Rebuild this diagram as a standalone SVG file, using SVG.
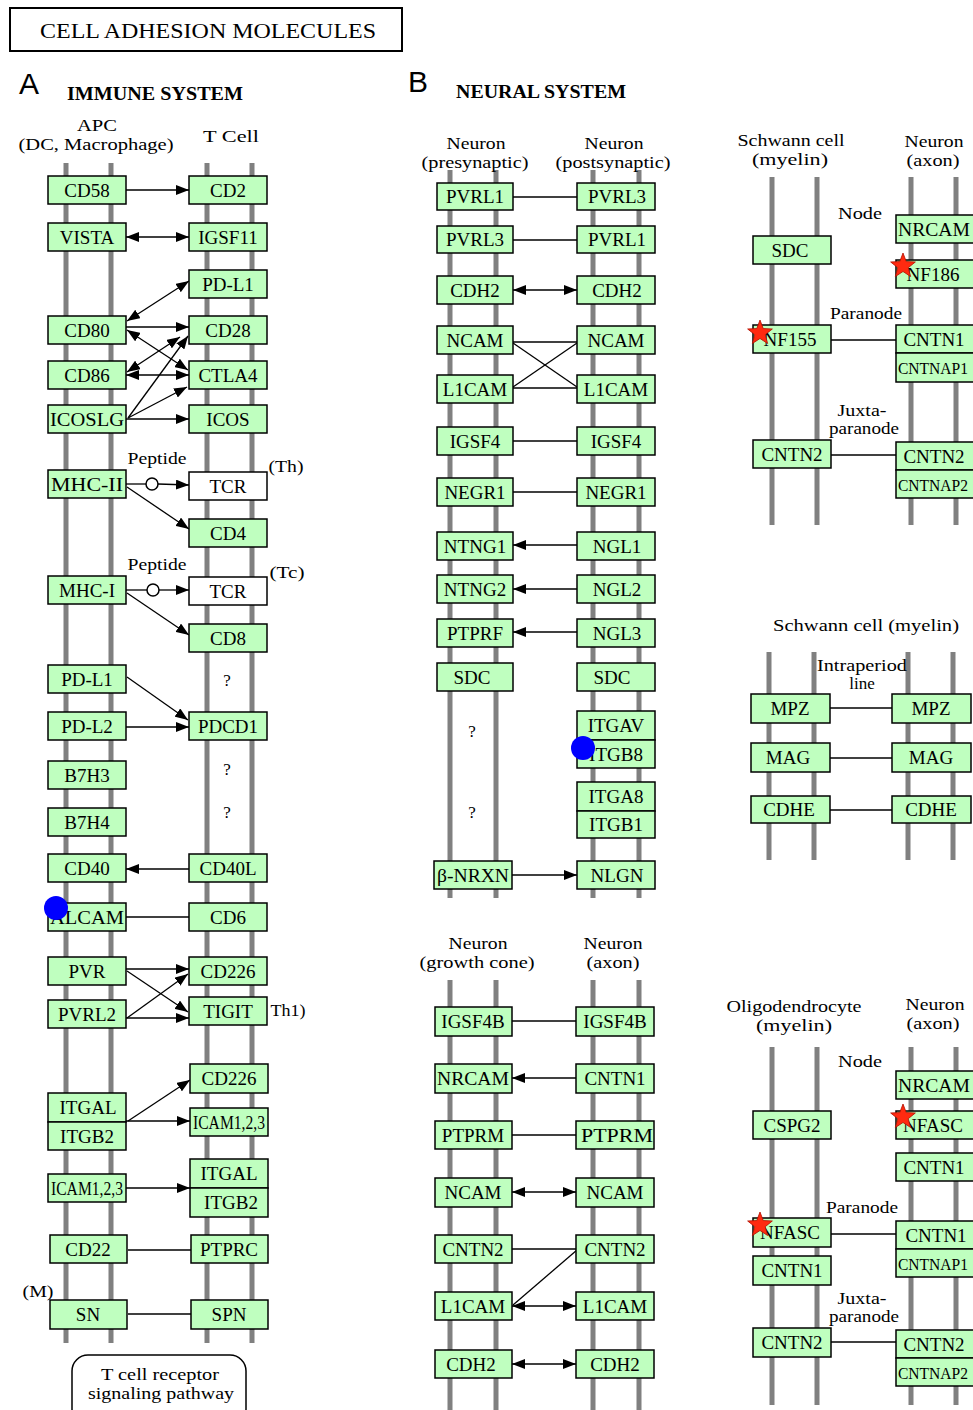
<svg xmlns="http://www.w3.org/2000/svg" width="973" height="1410" viewBox="0 0 973 1410">
<style>
.box{fill:#bfffbf;stroke:#000;stroke-width:1.5}
.wbox{fill:#fff;stroke:#000;stroke-width:1.5}
.nt{font-family:"Liberation Serif",serif;font-size:19px;text-anchor:middle;fill:#000}
.sq{font-size:17px}
.lb{font-family:"Liberation Serif",serif;font-size:17px;text-anchor:middle;fill:#000}
.hd{font-family:"Liberation Serif",serif;font-size:19px;font-weight:bold;fill:#000}
.big{font-family:"Liberation Sans",sans-serif;font-size:30px;fill:#000}
.bar{stroke:#808080;stroke-width:5}
.c{stroke:#000;stroke-width:1.3;fill:none}
.a{marker-end:url(#ah)}
.d{marker-start:url(#ah);marker-end:url(#ah)}
.star{fill:#ff2a10;stroke:#b01000;stroke-width:0.8}
.dot{fill:#0000ff}
</style>
<defs>
<marker id="ah" viewBox="0 0 13 10" refX="13" refY="5" markerWidth="13" markerHeight="10" orient="auto-start-reverse" markerUnits="userSpaceOnUse"><path d="M0,0 L13,5 L0,10 z" fill="#000"/></marker>
<path id="star" d="M0,-13 L3.23,-4.45 L12.36,-4.02 L5.23,1.7 L7.64,10.52 L0,5.5 L-7.64,10.52 L-5.23,1.7 L-12.36,-4.02 L-3.23,-4.45 Z"/>
</defs>
<rect width="973" height="1410" fill="#fff"/>

<!-- Title and headings -->
<g id="title">
<rect x="10" y="8" width="392" height="43" fill="#fff" stroke="#000" stroke-width="2"/>
<text x="40" y="38" font-family="Liberation Serif, serif" font-size="21" textLength="336" lengthAdjust="spacingAndGlyphs">CELL ADHESION  MOLECULES</text>
</g>
<text class="big" x="19" y="94">A</text>
<text class="hd" x="67" y="100" textLength="176" lengthAdjust="spacingAndGlyphs">IMMUNE SYSTEM</text>
<text class="big" x="408" y="92">B</text>
<text class="hd" x="456" y="98" textLength="170" lengthAdjust="spacingAndGlyphs">NEURAL SYSTEM</text>

<!-- Membrane bars -->
<g id="membranes">
<line class="bar" x1="66" y1="163" x2="66" y2="1343"/>
<line class="bar" x1="111" y1="163" x2="111" y2="1343"/>
<line class="bar" x1="207" y1="163" x2="207" y2="1343"/>
<line class="bar" x1="252" y1="163" x2="252" y2="1343"/>
<line class="bar" x1="450" y1="170" x2="450" y2="898"/>
<line class="bar" x1="496" y1="170" x2="496" y2="898"/>
<line class="bar" x1="593" y1="170" x2="593" y2="898"/>
<line class="bar" x1="639" y1="170" x2="639" y2="898"/>
<line class="bar" x1="450" y1="980" x2="450" y2="1410"/>
<line class="bar" x1="496" y1="980" x2="496" y2="1410"/>
<line class="bar" x1="593" y1="980" x2="593" y2="1410"/>
<line class="bar" x1="639" y1="980" x2="639" y2="1410"/>
<line class="bar" x1="772" y1="177" x2="772" y2="525"/>
<line class="bar" x1="817" y1="177" x2="817" y2="525"/>
<line class="bar" x1="911" y1="177" x2="911" y2="525"/>
<line class="bar" x1="956" y1="177" x2="956" y2="525"/>
<line class="bar" x1="769" y1="652" x2="769" y2="860"/>
<line class="bar" x1="814" y1="652" x2="814" y2="860"/>
<line class="bar" x1="908" y1="652" x2="908" y2="860"/>
<line class="bar" x1="953" y1="652" x2="953" y2="860"/>
<line class="bar" x1="772" y1="1047" x2="772" y2="1405"/>
<line class="bar" x1="817" y1="1047" x2="817" y2="1405"/>
<line class="bar" x1="911" y1="1047" x2="911" y2="1405"/>
<line class="bar" x1="956" y1="1047" x2="956" y2="1405"/>
</g>

<!-- Labels -->
<g id="labels">
<text class="lb" x="97" y="131" textLength="40" lengthAdjust="spacingAndGlyphs">APC</text>
<text class="lb" x="96" y="150" textLength="155" lengthAdjust="spacingAndGlyphs">(DC, Macrophage)</text>
<text class="lb" x="231" y="142" textLength="56" lengthAdjust="spacingAndGlyphs">T Cell</text>
<text class="lb" x="157" y="464" textLength="59" lengthAdjust="spacingAndGlyphs">Peptide</text>
<text class="lb" x="157" y="570" textLength="59" lengthAdjust="spacingAndGlyphs">Peptide</text>
<text class="lb" x="286" y="472" textLength="35" lengthAdjust="spacingAndGlyphs">(Th)</text>
<text class="lb" x="287" y="578" textLength="35" lengthAdjust="spacingAndGlyphs">(Tc)</text>
<text class="lb" x="288" y="1016" textLength="35" lengthAdjust="spacingAndGlyphs">Th1)</text>
<text class="lb" x="38" y="1297" textLength="31" lengthAdjust="spacingAndGlyphs">(M)</text>
<text class="lb" x="227" y="686">?</text>
<text class="lb" x="227" y="775">?</text>
<text class="lb" x="227" y="818">?</text>
<text class="lb" x="476" y="149" textLength="59" lengthAdjust="spacingAndGlyphs">Neuron</text>
<text class="lb" x="475" y="168" textLength="107" lengthAdjust="spacingAndGlyphs">(presynaptic)</text>
<text class="lb" x="614" y="149" textLength="59" lengthAdjust="spacingAndGlyphs">Neuron</text>
<text class="lb" x="613" y="168" textLength="115" lengthAdjust="spacingAndGlyphs">(postsynaptic)</text>
<text class="lb" x="472" y="737">?</text>
<text class="lb" x="472" y="818">?</text>
<text class="lb" x="478" y="949" textLength="59" lengthAdjust="spacingAndGlyphs">Neuron</text>
<text class="lb" x="477" y="968" textLength="115" lengthAdjust="spacingAndGlyphs">(growth cone)</text>
<text class="lb" x="613" y="949" textLength="59" lengthAdjust="spacingAndGlyphs">Neuron</text>
<text class="lb" x="613" y="968" textLength="53" lengthAdjust="spacingAndGlyphs">(axon)</text>
<text class="lb" x="791" y="146" textLength="107" lengthAdjust="spacingAndGlyphs">Schwann cell</text>
<text class="lb" x="790" y="165" textLength="76" lengthAdjust="spacingAndGlyphs">(myelin)</text>
<text class="lb" x="934" y="147" textLength="59" lengthAdjust="spacingAndGlyphs">Neuron</text>
<text class="lb" x="933" y="166" textLength="53" lengthAdjust="spacingAndGlyphs">(axon)</text>
<text class="lb" x="860" y="219" textLength="44" lengthAdjust="spacingAndGlyphs">Node</text>
<text class="lb" x="866" y="319" textLength="72" lengthAdjust="spacingAndGlyphs">Paranode</text>
<text class="lb" x="862" y="416" textLength="49" lengthAdjust="spacingAndGlyphs">Juxta-</text>
<text class="lb" x="864" y="434" textLength="70" lengthAdjust="spacingAndGlyphs">paranode</text>
<text class="lb" x="866" y="631" textLength="186" lengthAdjust="spacingAndGlyphs">Schwann cell (myelin)</text>
<text class="lb" x="862" y="671" textLength="90" lengthAdjust="spacingAndGlyphs">Intraperiod</text>
<text class="lb" x="862" y="689">line</text>
<text class="lb" x="794" y="1012" textLength="135" lengthAdjust="spacingAndGlyphs">Oligodendrocyte</text>
<text class="lb" x="794" y="1031" textLength="76" lengthAdjust="spacingAndGlyphs">(myelin)</text>
<text class="lb" x="935" y="1010" textLength="59" lengthAdjust="spacingAndGlyphs">Neuron</text>
<text class="lb" x="933" y="1029" textLength="53" lengthAdjust="spacingAndGlyphs">(axon)</text>
<text class="lb" x="860" y="1067" textLength="44" lengthAdjust="spacingAndGlyphs">Node</text>
<text class="lb" x="862" y="1213" textLength="72" lengthAdjust="spacingAndGlyphs">Paranode</text>
<text class="lb" x="862" y="1304" textLength="49" lengthAdjust="spacingAndGlyphs">Juxta-</text>
<text class="lb" x="864" y="1322" textLength="70" lengthAdjust="spacingAndGlyphs">paranode</text>
</g>

<!-- Connectors -->
<g id="connectors">
<path class="c a" d="M126,190 L189,190"/>
<path class="c d" d="M126,237 L189,237"/>
<path class="c d" d="M127,321 L189,281"/>
<path class="c a" d="M126,327 L189,327"/>
<path class="c d" d="M127,330 L188,370"/>
<path class="c d" d="M127,372 L180,337"/>
<path class="c d" d="M126,375 L189,375"/>
<path class="c a" d="M128,418 L188,336"/>
<path class="c a" d="M128,418 L187,387"/>
<path class="c a" d="M126,419 L189,419"/>
<path class="c" d="M126,484 L146,484"/>
<circle cx="152" cy="484" r="6" fill="#fff" stroke="#000" stroke-width="1.5"/>
<path class="c a" d="M158,484 L189,485"/>
<path class="c a" d="M127,487 L189,529"/>
<path class="c" d="M126,590 L147,590"/>
<circle cx="153" cy="590" r="6" fill="#fff" stroke="#000" stroke-width="1.5"/>
<path class="c a" d="M159,590 L189,590"/>
<path class="c a" d="M127,593 L189,635"/>
<path class="c a" d="M127,677 L188,720"/>
<path class="c a" d="M126,727 L189,727"/>
<path class="c a" d="M189,869 L126,869"/>
<path class="c" d="M126,917 L189,917"/>
<path class="c a" d="M126,969 L189,969"/>
<path class="c a" d="M127,971 L188,1012"/>
<path class="c a" d="M127,1018 L188,974"/>
<path class="c a" d="M126,1018 L189,1018"/>
<path class="c a" d="M128,1121 L190,1080"/>
<path class="c a" d="M126,1121 L190,1121"/>
<path class="c a" d="M126,1188 L190,1188"/>
<path class="c" d="M128,1250 L191,1250"/>
<path class="c" d="M128,1314 L191,1314"/>

<path class="c" d="M513,197 L577,197"/>
<path class="c" d="M513,240 L577,240"/>
<path class="c d" d="M513,290 L577,290"/>
<path class="c" d="M513,342 L577,342"/>
<path class="c" d="M513,388 L577,388"/>
<path class="c" d="M513,343 L577,387"/>
<path class="c" d="M513,387 L577,343"/>
<path class="c" d="M513,441 L577,441"/>
<path class="c" d="M513,492 L577,492"/>
<path class="c a" d="M577,545 L513,545"/>
<path class="c a" d="M577,589 L513,589"/>
<path class="c a" d="M577,632 L513,632"/>
<path class="c a" d="M512,875 L577,875"/>

<path class="c" d="M512,1021 L576,1021"/>
<path class="c a" d="M576,1078 L512,1078"/>
<path class="c" d="M512,1135 L576,1135"/>
<path class="c d" d="M512,1192 L576,1192"/>
<path class="c" d="M512,1249 L576,1249"/>
<path class="c" d="M577,1250 L513,1305"/>
<path class="c d" d="M512,1306 L576,1306"/>
<path class="c d" d="M512,1364 L576,1364"/>

<path class="c" d="M831,340 L896,340"/>
<path class="c" d="M831,455 L896,455"/>
<path class="c" d="M830,708 L892,708"/>
<path class="c" d="M830,758 L892,758"/>
<path class="c" d="M830,810 L892,810"/>
<path class="c" d="M831,1234 L896,1234"/>
<path class="c" d="M831,1342 L896,1342"/>
</g>

<!-- Immune system nodes -->
<g id="im-cd58"><rect class="box" x="48" y="176" width="78" height="28"/><text class="nt" x="87" y="197">CD58</text></g>
<g id="im-cd2"><rect class="box" x="189" y="176" width="78" height="28"/><text class="nt" x="228" y="197">CD2</text></g>
<g id="im-vista"><rect class="box" x="48" y="223" width="78" height="28"/><text class="nt" x="87" y="244">VISTA</text></g>
<g id="im-igsf11"><rect class="box" x="189" y="223" width="78" height="28"/><text class="nt" x="228" y="244">IGSF11</text></g>
<g id="im-pdl1-t"><rect class="box" x="189" y="270" width="78" height="28"/><text class="nt" x="228" y="291">PD-L1</text></g>
<g id="im-cd80"><rect class="box" x="48" y="316" width="78" height="28"/><text class="nt" x="87" y="337">CD80</text></g>
<g id="im-cd28"><rect class="box" x="189" y="316" width="78" height="28"/><text class="nt" x="228" y="337">CD28</text></g>
<g id="im-cd86"><rect class="box" x="48" y="361" width="78" height="28"/><text class="nt" x="87" y="382">CD86</text></g>
<g id="im-ctla4"><rect class="box" x="189" y="361" width="78" height="28"/><text class="nt" x="228" y="382">CTLA4</text></g>
<g id="im-icoslg"><rect class="box" x="48" y="405" width="78" height="28"/><text class="nt" x="87" y="426" textLength="74" lengthAdjust="spacingAndGlyphs">ICOSLG</text></g>
<g id="im-icos"><rect class="box" x="189" y="405" width="78" height="28"/><text class="nt" x="228" y="426">ICOS</text></g>
<g id="im-mhc2"><rect class="box" x="48" y="470" width="78" height="28"/><text class="nt" x="87" y="491" textLength="72" lengthAdjust="spacingAndGlyphs">MHC-II</text></g>
<g id="im-tcr-th"><rect class="wbox" x="189" y="472" width="78" height="28"/><text class="nt" x="228" y="493">TCR</text></g>
<g id="im-cd4"><rect class="box" x="189" y="519" width="78" height="28"/><text class="nt" x="228" y="540">CD4</text></g>
<g id="im-mhc1"><rect class="box" x="48" y="576" width="78" height="28"/><text class="nt" x="87" y="597">MHC-I</text></g>
<g id="im-tcr-tc"><rect class="wbox" x="189" y="577" width="78" height="28"/><text class="nt" x="228" y="598">TCR</text></g>
<g id="im-cd8"><rect class="box" x="189" y="624" width="78" height="28"/><text class="nt" x="228" y="645">CD8</text></g>
<g id="im-pdl1"><rect class="box" x="48" y="665" width="78" height="28"/><text class="nt" x="87" y="686">PD-L1</text></g>
<g id="im-pdl2"><rect class="box" x="48" y="712" width="78" height="28"/><text class="nt" x="87" y="733">PD-L2</text></g>
<g id="im-pdcd1"><rect class="box" x="189" y="712" width="78" height="28"/><text class="nt" x="228" y="733">PDCD1</text></g>
<g id="im-b7h3"><rect class="box" x="48" y="761" width="78" height="28"/><text class="nt" x="87" y="782">B7H3</text></g>
<g id="im-b7h4"><rect class="box" x="48" y="808" width="78" height="28"/><text class="nt" x="87" y="829">B7H4</text></g>
<g id="im-cd40"><rect class="box" x="48" y="854" width="78" height="28"/><text class="nt" x="87" y="875">CD40</text></g>
<g id="im-cd40l"><rect class="box" x="189" y="854" width="78" height="28"/><text class="nt" x="228" y="875">CD40L</text></g>
<g id="im-alcam"><rect class="box" x="48" y="903" width="78" height="28"/><text class="nt" x="87" y="924" textLength="74" lengthAdjust="spacingAndGlyphs">ALCAM</text></g>
<g id="im-cd6"><rect class="box" x="189" y="903" width="78" height="28"/><text class="nt" x="228" y="924">CD6</text></g>
<g id="im-pvr"><rect class="box" x="48" y="957" width="78" height="28"/><text class="nt" x="87" y="978">PVR</text></g>
<g id="im-cd226a"><rect class="box" x="189" y="957" width="78" height="28"/><text class="nt" x="228" y="978">CD226</text></g>
<g id="im-pvrl2"><rect class="box" x="48" y="1000" width="78" height="28"/><text class="nt" x="87" y="1021">PVRL2</text></g>
<g id="im-tigit"><rect class="box" x="189" y="997" width="78" height="28"/><text class="nt" x="228" y="1018">TIGIT</text></g>
<g id="im-cd226b"><rect class="box" x="190" y="1064" width="78" height="29"/><text class="nt" x="229" y="1085">CD226</text></g>
<g id="im-itgal-itgb2-l"><rect class="box" x="48" y="1093" width="78" height="29"/><rect class="box" x="48" y="1122" width="78" height="28"/><text class="nt" x="88" y="1114">ITGAL</text><text class="nt" x="87" y="1143">ITGB2</text></g>
<g id="im-icam-r"><rect class="box" x="190" y="1108" width="78" height="28"/><text class="nt" x="229" y="1129" textLength="72" lengthAdjust="spacingAndGlyphs">ICAM1,2,3</text></g>
<g id="im-icam-l"><rect class="box" x="48" y="1174" width="78" height="28"/><text class="nt" x="87" y="1195" textLength="72" lengthAdjust="spacingAndGlyphs">ICAM1,2,3</text></g>
<g id="im-itgal-itgb2-r"><rect class="box" x="190" y="1159" width="78" height="29"/><rect class="box" x="190" y="1188" width="78" height="29"/><text class="nt" x="229" y="1180">ITGAL</text><text class="nt" x="231" y="1209">ITGB2</text></g>
<g id="im-cd22"><rect class="box" x="50" y="1235" width="77" height="28"/><text class="nt" x="88" y="1256">CD22</text></g>
<g id="im-ptprc"><rect class="box" x="191" y="1235" width="77" height="28"/><text class="nt" x="229" y="1256">PTPRC</text></g>
<g id="im-sn"><rect class="box" x="50" y="1300" width="77" height="29"/><text class="nt" x="88" y="1321">SN</text></g>
<g id="im-spn"><rect class="box" x="191" y="1300" width="77" height="29"/><text class="nt" x="229" y="1321">SPN</text></g>
<g id="im-tcr-pathway"><rect x="72" y="1355" width="174" height="70" rx="16" fill="#fff" stroke="#000" stroke-width="1.5"/><text class="lb" x="160" y="1380" textLength="118" lengthAdjust="spacingAndGlyphs">T cell receptor</text><text class="lb" x="161" y="1399" textLength="146" lengthAdjust="spacingAndGlyphs">signaling pathway</text></g>

<!-- Neural synapse nodes -->
<g id="ns-pvrl1-pre"><rect class="box" x="437" y="183" width="76" height="27"/><text class="nt" x="475" y="203">PVRL1</text></g>
<g id="ns-pvrl3-post"><rect class="box" x="577" y="183" width="78" height="27"/><text class="nt" x="617" y="203">PVRL3</text></g>
<g id="ns-pvrl3-pre"><rect class="box" x="437" y="226" width="76" height="27"/><text class="nt" x="475" y="246">PVRL3</text></g>
<g id="ns-pvrl1-post"><rect class="box" x="577" y="226" width="78" height="27"/><text class="nt" x="617" y="246">PVRL1</text></g>
<g id="ns-cdh2-pre"><rect class="box" x="437" y="276" width="76" height="28"/><text class="nt" x="475" y="297">CDH2</text></g>
<g id="ns-cdh2-post"><rect class="box" x="577" y="276" width="78" height="28"/><text class="nt" x="617" y="297">CDH2</text></g>
<g id="ns-ncam-pre"><rect class="box" x="437" y="326" width="76" height="28"/><text class="nt" x="475" y="347">NCAM</text></g>
<g id="ns-ncam-post"><rect class="box" x="577" y="326" width="78" height="28"/><text class="nt" x="616" y="347">NCAM</text></g>
<g id="ns-l1cam-pre"><rect class="box" x="437" y="375" width="76" height="28"/><text class="nt" x="475" y="396">L1CAM</text></g>
<g id="ns-l1cam-post"><rect class="box" x="577" y="375" width="78" height="28"/><text class="nt" x="616" y="396">L1CAM</text></g>
<g id="ns-igsf4-pre"><rect class="box" x="437" y="427" width="76" height="28"/><text class="nt" x="475" y="448">IGSF4</text></g>
<g id="ns-igsf4-post"><rect class="box" x="577" y="427" width="78" height="28"/><text class="nt" x="616" y="448">IGSF4</text></g>
<g id="ns-negr1-pre"><rect class="box" x="437" y="478" width="76" height="28"/><text class="nt" x="475" y="499">NEGR1</text></g>
<g id="ns-negr1-post"><rect class="box" x="577" y="478" width="78" height="28"/><text class="nt" x="616" y="499">NEGR1</text></g>
<g id="ns-ntng1"><rect class="box" x="437" y="532" width="76" height="28"/><text class="nt" x="475" y="553">NTNG1</text></g>
<g id="ns-ngl1"><rect class="box" x="577" y="532" width="78" height="28"/><text class="nt" x="617" y="553">NGL1</text></g>
<g id="ns-ntng2"><rect class="box" x="437" y="575" width="76" height="28"/><text class="nt" x="475" y="596">NTNG2</text></g>
<g id="ns-ngl2"><rect class="box" x="577" y="575" width="78" height="28"/><text class="nt" x="617" y="596">NGL2</text></g>
<g id="ns-ptprf"><rect class="box" x="437" y="619" width="76" height="28"/><text class="nt" x="475" y="640">PTPRF</text></g>
<g id="ns-ngl3"><rect class="box" x="577" y="619" width="78" height="28"/><text class="nt" x="617" y="640">NGL3</text></g>
<g id="ns-sdc-pre"><rect class="box" x="437" y="663" width="76" height="28"/><text class="nt" x="472" y="684">SDC</text></g>
<g id="ns-sdc-post"><rect class="box" x="577" y="663" width="78" height="28"/><text class="nt" x="612" y="684">SDC</text></g>
<g id="ns-itgav-itgb8"><rect class="box" x="577" y="711" width="78" height="29"/><rect class="box" x="577" y="740" width="78" height="28"/><text class="nt" x="616" y="732">ITGAV</text><text class="nt" x="616" y="761">ITGB8</text></g>
<g id="ns-itga8-itgb1"><rect class="box" x="577" y="782" width="78" height="29"/><rect class="box" x="577" y="811" width="78" height="27"/><text class="nt" x="616" y="803">ITGA8</text><text class="nt" x="616" y="831">ITGB1</text></g>
<g id="ns-bnrxn"><rect class="box" x="434" y="861" width="78" height="28"/><text class="nt" x="473" y="882" textLength="72" lengthAdjust="spacingAndGlyphs">β-NRXN</text></g>
<g id="ns-nlgn"><rect class="box" x="577" y="861" width="78" height="28"/><text class="nt" x="617" y="882">NLGN</text></g>

<!-- Growth cone / axon nodes -->
<g id="gc-igsf4b-l"><rect class="box" x="435" y="1007" width="77" height="29"/><text class="nt" x="473" y="1028">IGSF4B</text></g>
<g id="gc-igsf4b-r"><rect class="box" x="576" y="1007" width="78" height="29"/><text class="nt" x="615" y="1028">IGSF4B</text></g>
<g id="gc-nrcam"><rect class="box" x="435" y="1064" width="77" height="29"/><text class="nt" x="473" y="1085" textLength="72" lengthAdjust="spacingAndGlyphs">NRCAM</text></g>
<g id="gc-cntn1"><rect class="box" x="576" y="1064" width="78" height="29"/><text class="nt" x="615" y="1085">CNTN1</text></g>
<g id="gc-ptprm-l"><rect class="box" x="435" y="1121" width="77" height="28"/><text class="nt" x="473" y="1142">PTPRM</text></g>
<g id="gc-ptprm-r"><rect class="box" x="576" y="1121" width="78" height="28"/><text class="nt" x="617" y="1142" textLength="72" lengthAdjust="spacingAndGlyphs">PTPRM</text></g>
<g id="gc-ncam-l"><rect class="box" x="435" y="1178" width="77" height="29"/><text class="nt" x="473" y="1199">NCAM</text></g>
<g id="gc-ncam-r"><rect class="box" x="576" y="1178" width="78" height="29"/><text class="nt" x="615" y="1199">NCAM</text></g>
<g id="gc-cntn2-l"><rect class="box" x="435" y="1235" width="77" height="28"/><text class="nt" x="473" y="1256">CNTN2</text></g>
<g id="gc-cntn2-r"><rect class="box" x="576" y="1235" width="78" height="28"/><text class="nt" x="615" y="1256">CNTN2</text></g>
<g id="gc-l1cam-l"><rect class="box" x="435" y="1292" width="77" height="28"/><text class="nt" x="473" y="1313">L1CAM</text></g>
<g id="gc-l1cam-r"><rect class="box" x="576" y="1292" width="78" height="28"/><text class="nt" x="615" y="1313">L1CAM</text></g>
<g id="gc-cdh2-l"><rect class="box" x="435" y="1350" width="77" height="28"/><text class="nt" x="471" y="1371">CDH2</text></g>
<g id="gc-cdh2-r"><rect class="box" x="576" y="1350" width="78" height="28"/><text class="nt" x="615" y="1371">CDH2</text></g>

<!-- Schwann cell / axon nodes -->
<g id="sc-nrcam"><rect class="box" x="896" y="215" width="78" height="28"/><text class="nt" x="934" y="236" textLength="72" lengthAdjust="spacingAndGlyphs">NRCAM</text></g>
<g id="sc-sdc"><rect class="box" x="753" y="236" width="78" height="28"/><text class="nt" x="790" y="257">SDC</text></g>
<g id="sc-nf186"><rect class="box" x="896" y="260" width="78" height="28"/><text class="nt" x="933" y="281">NF186</text></g>
<g id="sc-nf155"><rect class="box" x="753" y="325" width="78" height="28"/><text class="nt" x="790" y="346">NF155</text></g>
<g id="sc-cntn1-cntnap1"><rect class="box" x="896" y="325" width="78" height="28"/><rect class="box" x="896" y="353" width="78" height="29"/><text class="nt" x="934" y="346">CNTN1</text><text class="nt sq" x="933" y="374" textLength="70" lengthAdjust="spacingAndGlyphs">CNTNAP1</text></g>
<g id="sc-cntn2"><rect class="box" x="753" y="440" width="78" height="28"/><text class="nt" x="792" y="461">CNTN2</text></g>
<g id="sc-cntn2-cntnap2"><rect class="box" x="896" y="442" width="78" height="28"/><rect class="box" x="896" y="470" width="78" height="28"/><text class="nt" x="934" y="463">CNTN2</text><text class="nt sq" x="933" y="491" textLength="70" lengthAdjust="spacingAndGlyphs">CNTNAP2</text></g>

<g id="sm-mpz-l"><rect class="box" x="751" y="694" width="79" height="29"/><text class="nt" x="790" y="715">MPZ</text></g>
<g id="sm-mpz-r"><rect class="box" x="892" y="694" width="79" height="29"/><text class="nt" x="931" y="715">MPZ</text></g>
<g id="sm-mag-l"><rect class="box" x="751" y="743" width="79" height="29"/><text class="nt" x="788" y="764">MAG</text></g>
<g id="sm-mag-r"><rect class="box" x="892" y="743" width="79" height="29"/><text class="nt" x="931" y="764">MAG</text></g>
<g id="sm-cdhe-l"><rect class="box" x="751" y="796" width="79" height="27"/><text class="nt" x="789" y="816">CDHE</text></g>
<g id="sm-cdhe-r"><rect class="box" x="892" y="796" width="79" height="27"/><text class="nt" x="931" y="816">CDHE</text></g>

<!-- Oligodendrocyte / axon nodes -->
<g id="ol-nrcam"><rect class="box" x="896" y="1071" width="78" height="28"/><text class="nt" x="934" y="1092" textLength="72" lengthAdjust="spacingAndGlyphs">NRCAM</text></g>
<g id="ol-cspg2"><rect class="box" x="753" y="1111" width="78" height="28"/><text class="nt" x="792" y="1132">CSPG2</text></g>
<g id="ol-nfasc-r"><rect class="box" x="896" y="1111" width="78" height="28"/><text class="nt" x="933" y="1132">NFASC</text></g>
<g id="ol-cntn1-r"><rect class="box" x="896" y="1153" width="78" height="28"/><text class="nt" x="934" y="1174">CNTN1</text></g>
<g id="ol-nfasc-l"><rect class="box" x="753" y="1218" width="78" height="29"/><text class="nt" x="790" y="1239">NFASC</text></g>
<g id="ol-cntn1-cntnap1"><rect class="box" x="896" y="1221" width="78" height="28"/><rect class="box" x="896" y="1249" width="78" height="28"/><text class="nt" x="936" y="1242">CNTN1</text><text class="nt sq" x="933" y="1270" textLength="70" lengthAdjust="spacingAndGlyphs">CNTNAP1</text></g>
<g id="ol-cntn1-l"><rect class="box" x="753" y="1256" width="78" height="29"/><text class="nt" x="792" y="1277">CNTN1</text></g>
<g id="ol-cntn2-l"><rect class="box" x="753" y="1328" width="78" height="29"/><text class="nt" x="792" y="1349">CNTN2</text></g>
<g id="ol-cntn2-cntnap2"><rect class="box" x="896" y="1330" width="78" height="28"/><rect class="box" x="896" y="1358" width="78" height="28"/><text class="nt" x="934" y="1351">CNTN2</text><text class="nt sq" x="933" y="1379" textLength="70" lengthAdjust="spacingAndGlyphs">CNTNAP2</text></g>

<!-- Highlights (stars, dots) -->
<g id="highlights">
<use href="#star" class="star" x="903" y="266"/>
<use href="#star" class="star" x="760" y="333"/>
<use href="#star" class="star" x="903" y="1117"/>
<use href="#star" class="star" x="760" y="1225"/>
<circle class="dot" cx="56" cy="908" r="12"/>
<circle class="dot" cx="583" cy="748" r="12"/>
</g>
</svg>
